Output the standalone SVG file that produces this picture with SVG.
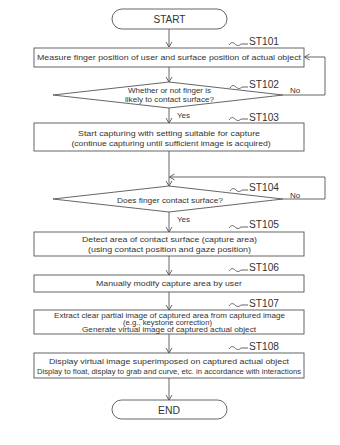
<svg xmlns="http://www.w3.org/2000/svg" width="340" height="445" viewBox="0 0 340 445">
<defs>
<style>
.s{fill:#fff;stroke:#555;stroke-width:0.9}
.c{fill:none;stroke:#555;stroke-width:0.9}
.t{font-family:"Liberation Sans",Arial,sans-serif;fill:#333;text-anchor:middle}
.l{font-family:"Liberation Sans",Arial,sans-serif;fill:#333;font-size:10px}
.y{font-family:"Liberation Sans",Arial,sans-serif;fill:#333;font-size:8px}
</style>
<marker id="a" markerWidth="8" markerHeight="8" refX="6" refY="4" orient="auto" markerUnits="userSpaceOnUse">
<polyline points="1,1 6,4 1,7" fill="none" stroke="#555" stroke-width="0.9"/>
</marker>
</defs>
<rect width="340" height="445" fill="#fff"/>
<g id="connectors">
<line class="c" x1="169" y1="29" x2="169" y2="47" marker-end="url(#a)"/>
<line class="c" x1="169" y1="67" x2="169" y2="82" marker-end="url(#a)"/>
<polyline class="c" points="283,95 325,95 325,57 304.5,57" marker-end="url(#a)"/>
<line class="c" x1="169" y1="108" x2="169" y2="123" marker-end="url(#a)"/>
<line class="c" x1="169" y1="151" x2="169" y2="186" marker-end="url(#a)"/>
<polyline class="c" points="283,199 325,199 325,177 169.5,177" marker-end="url(#a)"/>
<line class="c" x1="169" y1="212" x2="169" y2="232" marker-end="url(#a)"/>
<line class="c" x1="169" y1="256" x2="169" y2="275" marker-end="url(#a)"/>
<line class="c" x1="169" y1="292" x2="169" y2="310" marker-end="url(#a)"/>
<line class="c" x1="169" y1="334" x2="169" y2="353" marker-end="url(#a)"/>
<line class="c" x1="169" y1="378" x2="169" y2="400" marker-end="url(#a)"/>
<text class="y" x="290" y="92.5">No</text>
<text class="y" x="290" y="198">No</text>
<text class="y" x="177" y="117.5">Yes</text>
<text class="y" x="177" y="222">Yes</text>
</g>
<g id="start">
<rect class="s" x="112" y="9" width="115" height="20" rx="10"/>
<text class="t" x="169.5" y="23" font-size="10" textLength="32" lengthAdjust="spacingAndGlyphs">START</text>
</g>
<g id="st101">
<rect class="s" x="34" y="48" width="270" height="19"/>
<text class="t" x="169" y="60" font-size="7.8" textLength="264" lengthAdjust="spacingAndGlyphs">Measure finger position of user and surface position of actual object</text>
<path class="c" d="M229,45 c2,-3 4,-3 6,-1 s4,2 6,0 l7,0"/>
<text class="l" x="249" y="45" textLength="30" lengthAdjust="spacingAndGlyphs">ST101</text>
</g>
<g id="st102">
<polygon class="s" points="169,82 283,95 169,108 53,95"/>
<text class="t" x="169.5" y="93" font-size="7" textLength="83" lengthAdjust="spacingAndGlyphs">Whether or not finger is</text>
<text class="t" x="169.5" y="102" font-size="7" textLength="89" lengthAdjust="spacingAndGlyphs">likely to contact surface?</text>
<path class="c" d="M230,88 c2,-3 4,-3 6,-1 s4,2 6,0 l6,0"/>
<text class="l" x="249" y="88" textLength="30" lengthAdjust="spacingAndGlyphs">ST102</text>
</g>
<g id="st103">
<rect class="s" x="34" y="123" width="270" height="28"/>
<text class="t" x="169" y="136" font-size="7.8" textLength="182" lengthAdjust="spacingAndGlyphs">Start capturing with setting suitable for capture</text>
<text class="t" x="171" y="146" font-size="7.8" textLength="199" lengthAdjust="spacingAndGlyphs">(continue capturing until sufficient image is acquired)</text>
<path class="c" d="M229,120 c2,-3 4,-3 6,-1 s4,2 6,0 l7,0"/>
<text class="l" x="249" y="121" textLength="30" lengthAdjust="spacingAndGlyphs">ST103</text>
</g>
<g id="st104">
<polygon class="s" points="169,186 283,199 169,212 53,199"/>
<text class="t" x="170" y="202.5" font-size="7" textLength="106" lengthAdjust="spacingAndGlyphs">Does finger contact surface?</text>
<path class="c" d="M230,191 c2,-3 4,-3 6,-1 s4,2 6,0 l6,0"/>
<text class="l" x="249" y="191" textLength="30" lengthAdjust="spacingAndGlyphs">ST104</text>
</g>
<g id="st105">
<rect class="s" x="34" y="232" width="270" height="24"/>
<text class="t" x="169.5" y="242" font-size="7.8" textLength="175" lengthAdjust="spacingAndGlyphs">Detect area of contact surface (capture area)</text>
<text class="t" x="169.5" y="252" font-size="7.8" textLength="163" lengthAdjust="spacingAndGlyphs">(using contact position and gaze position)</text>
<path class="c" d="M229,228 c2,-3 4,-3 6,-1 s4,2 6,0 l7,0"/>
<text class="l" x="249" y="228" textLength="30" lengthAdjust="spacingAndGlyphs">ST105</text>
</g>
<g id="st106">
<rect class="s" x="34" y="275" width="270" height="17"/>
<text class="t" x="169" y="286" font-size="7.8" textLength="146" lengthAdjust="spacingAndGlyphs">Manually modify capture area by user</text>
<path class="c" d="M229,271 c2,-3 4,-3 6,-1 s4,2 6,0 l7,0"/>
<text class="l" x="249" y="271" textLength="30" lengthAdjust="spacingAndGlyphs">ST106</text>
</g>
<g id="st107">
<rect class="s" x="34" y="310" width="270" height="24"/>
<text class="t" x="169.5" y="317.5" font-size="7" textLength="231" lengthAdjust="spacingAndGlyphs">Extract clear partial image of captured area from captured image</text>
<text class="t" x="167.5" y="324.5" font-size="7" textLength="89" lengthAdjust="spacingAndGlyphs">(e.g., keystone correction)</text>
<text class="t" x="169" y="331.5" font-size="7" textLength="174" lengthAdjust="spacingAndGlyphs">Generate virtual image of captured actual object</text>
<path class="c" d="M229,306 c2,-3 4,-3 6,-1 s4,2 6,0 l7,0"/>
<text class="l" x="249" y="307" textLength="30" lengthAdjust="spacingAndGlyphs">ST107</text>
</g>
<g id="st108">
<rect class="s" x="34" y="353" width="270" height="25"/>
<text class="t" x="169" y="364" font-size="7.8" textLength="240" lengthAdjust="spacingAndGlyphs">Display virtual image superimposed on captured actual object</text>
<text class="t" x="169" y="374" font-size="7.3" textLength="264" lengthAdjust="spacingAndGlyphs">Display to float, display to grab and curve, etc. in accordance with interactions</text>
<path class="c" d="M229,349 c2,-3 4,-3 6,-1 s4,2 6,0 l7,0"/>
<text class="l" x="249" y="350" textLength="30" lengthAdjust="spacingAndGlyphs">ST108</text>
</g>
<g id="end">
<rect class="s" x="112" y="400" width="115" height="19" rx="9.5"/>
<text class="t" x="169" y="413.5" font-size="10" textLength="22" lengthAdjust="spacingAndGlyphs">END</text>
</g>
</svg>
